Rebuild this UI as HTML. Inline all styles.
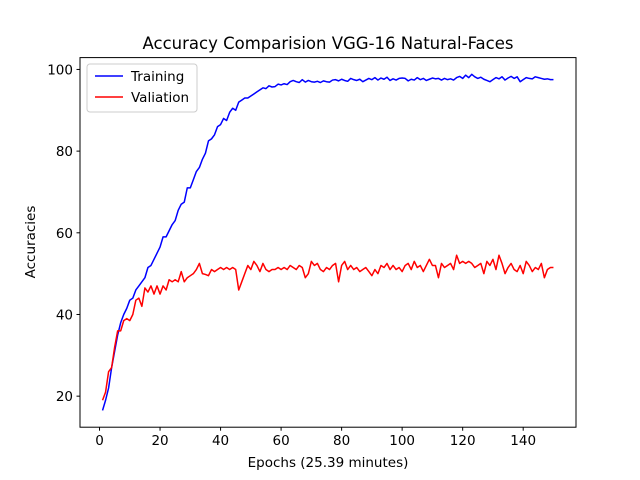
<!DOCTYPE html>
<html><head><meta charset="utf-8"><style>body{margin:0;background:#fff}svg{display:block;font-family:"DejaVu Sans","Liberation Sans",sans-serif}</style></head>
<body>
<svg id="chart" width="640" height="480">
<rect width="640" height="480" fill="#fff"/>
<text x="328" y="49" font-size="16.5" text-anchor="middle">Accuracy Comparision VGG-16 Natural-Faces</text>
<g id="plot"></g>
<rect x="80" y="57.6" width="496" height="369.6" fill="none" stroke="#000" stroke-width="1"/>
<text x="328" y="467" font-size="13.5" text-anchor="middle">Epochs (25.39 minutes)</text>
<text x="35" y="242" font-size="13.5" text-anchor="middle" transform="rotate(-90 35 242)">Accuracies</text>
<g>
<rect x="87" y="64" width="110" height="48" rx="3" fill="#fff" fill-opacity="0.8" stroke="#ccc"/>
<line x1="95" y1="76" x2="123" y2="76" stroke="#0000ff" stroke-width="1.5"/>
<text x="131" y="81" font-size="13.5">Training</text>
<line x1="95" y1="97" x2="123" y2="97" stroke="#ff0000" stroke-width="1.5"/>
<text x="131" y="102" font-size="13.5">Valiation</text>
</g>
</svg>
<script>
const xTicks=[0,20,40,60,80,100,120,140];
const yTicks=[20,40,60,80,100];
const training=[16.5,19,22,27,31,35,38,40,41.5,43.5,44,46,47,48,49,51.5,52,53.5,55,56.5,59,59,60.5,62,63,65.5,67,67.5,71,71,73,75,76,78,79.5,82.5,83,84,86,86.5,88,87.5,89.5,90.5,90,92,92.5,93,93,93.5,94,94.5,95,95.5,95.3,96,95.7,95.8,96.4,96.2,96.5,96.3,97,97.3,97,96.8,97.5,96.9,97.3,97,96.9,97.1,96.8,97.2,97,96.9,97.4,97.5,97.2,97.6,97.3,97.1,97.8,97.5,97.3,97.6,97,97.4,97.8,97.5,98,97.4,97.9,97.6,98.1,97.3,97.7,97.4,97.8,97.9,97.8,97.2,97.6,97.4,98,97.5,97.8,97.3,97.6,97.9,97.7,97.8,97.4,97.8,97.5,97.7,97.4,98,98.3,97.8,98.6,98,98.8,98.2,97.8,98.1,97.6,97.3,97,97.5,98,97.7,98.2,97.4,97.9,98.3,97.8,98.2,97,97.5,98,97.8,97.7,98.2,98,97.8,97.6,97.7,97.5,97.5];
const validation=[19,21,26,27,32,36,36,38.5,39,38.5,40,43.5,44,42,46.5,45.5,47,45,47,45,47,46,48.5,48,48.5,48,50.5,48,49,49.5,50,51,52.5,50,49.8,49.5,51,50.5,51,51.5,51,51.5,51,51.5,51,46,48,50,52,51,53,52,50.5,52.5,51,50.5,51,51,51.5,51,51.5,51,52,51.5,51,52,51.5,49,50,53,52,52.5,51,50.5,51.5,51,52,52.5,48,52,53,51,52,51,51.5,50.5,51,51.5,50.5,49.5,51,50,52,51.5,52.5,51,52,51,51.5,50.5,52,52.5,51,53,51.5,52,50.5,52,53.5,52,52,49,52.5,51.5,52,52.5,51,54.5,52.5,53,52.5,53,52.5,51.5,52,52.5,50,53,52,53.5,51,54.5,52.5,50,51.5,52.5,51,50.5,52,50,53,52,50.5,51.5,51,52.5,49,51,51.5,51.5,51.5];
const X0=80,X1=576,Y0=427.2,Y1=57.6,xmin=-6.45,xmax=157.45,ymin=12.4,ymax=102.9;
const sx=v=>X0+(v-xmin)/(xmax-xmin)*(X1-X0);
const sy=v=>Y0-(v-ymin)/(ymax-ymin)*(Y0-Y1);
const NS="http://www.w3.org/2000/svg",g=document.getElementById('plot');
function mk(t,a){const e=document.createElementNS(NS,t);for(const k in a)e.setAttribute(k,a[k]);g.appendChild(e);return e;}
xTicks.forEach(t=>{
 const l=mk('line',{x1:sx(t),x2:sx(t),y1:Y0,y2:Y0+3.5,stroke:'#000'});
 
 
 const s=mk('text',{x:sx(t),y:Y0+18,'font-size':13.5,'text-anchor':'middle'});s.textContent=t;
 
 
});
yTicks.forEach(t=>{
 const l=mk('line',{x1:X0-3.5,x2:X0,y1:sy(t),y2:sy(t),stroke:'#000'});
 
 
 const s=mk('text',{x:X0-7,y:sy(t)+5,'font-size':13.5,'text-anchor':'end'});s.textContent=t;
 
 
});
function line(d,c,n){
 const p=mk('polyline',{points:d.slice(0,150).map((v,i)=>sx(i+1)+','+sy(v)).join(' '),fill:'none',stroke:c,'stroke-width':1.5,'stroke-linejoin':'round'});
 
 
}
line(training,'#0000ff','training-line');
line(validation,'#ff0000','validation-line');
</script>
</body></html>
